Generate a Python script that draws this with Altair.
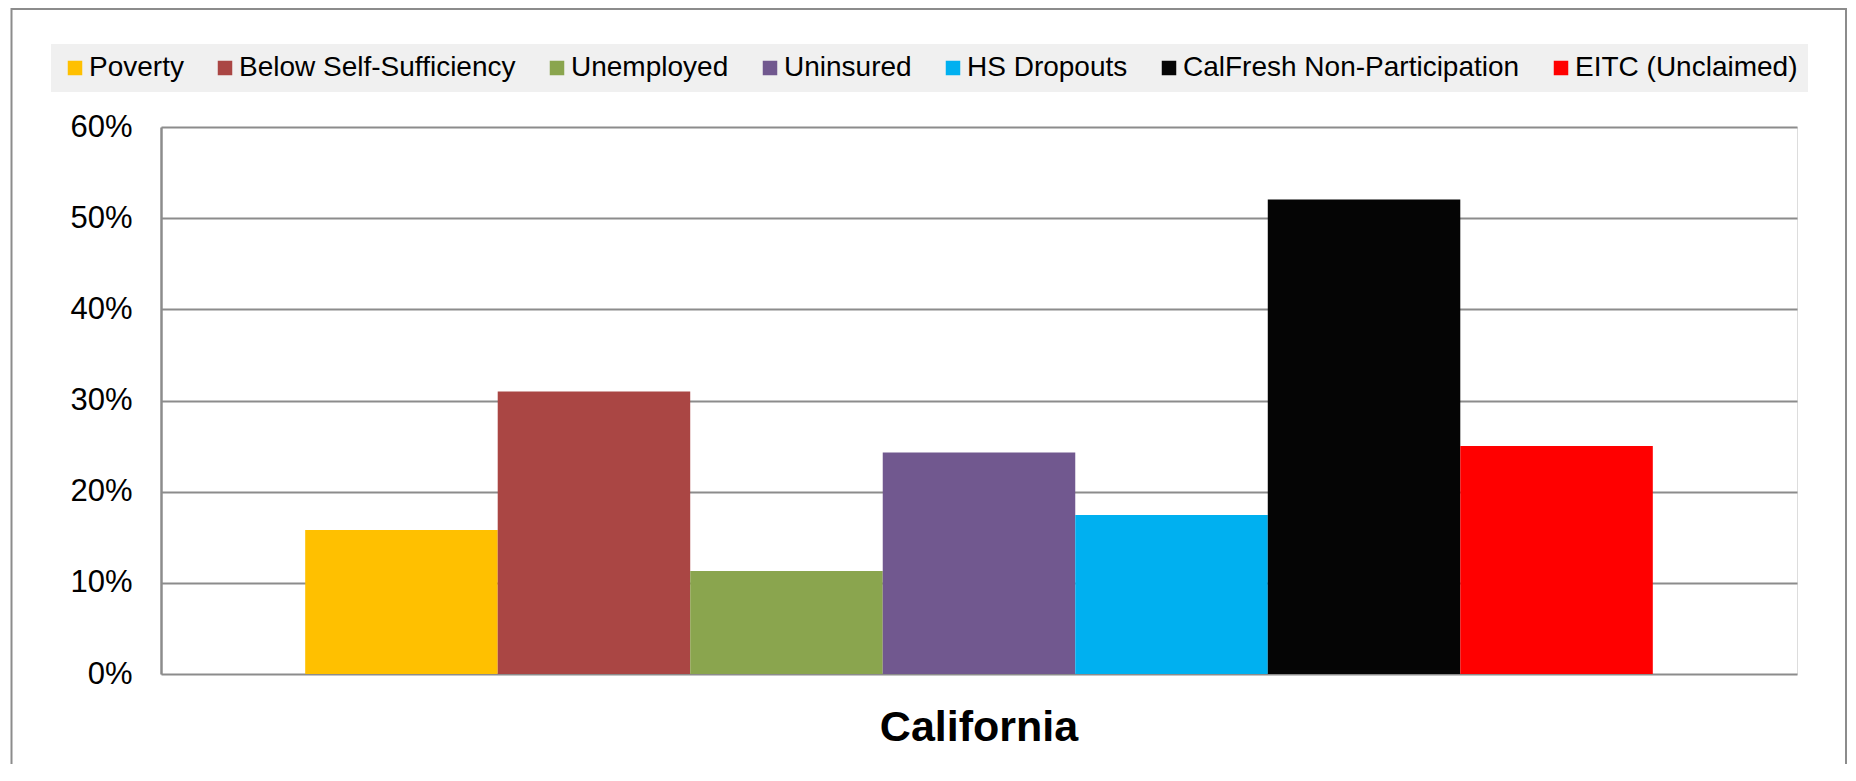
import altair as alt
import pandas as pd

region = ["California"]
series = ["Poverty", "Below Self-Sufficiency", "Unemployed", "Uninsured",
          "HS Dropouts", "CalFresh Non-Participation", "EITC (Unclaimed)"]
values = [0.158, 0.310, 0.113, 0.243, 0.1745, 0.5205, 0.250]
colors = ["#FFC000", "#AA4644", "#8AA54E", "#71588F", "#00B0F0", "#050505", "#FF0000"]
y_ticks = [0, 0.1, 0.2, 0.3, 0.4, 0.5, 0.6]

df = pd.DataFrame({"region": region * len(series), "series": series, "value": values})

FONT = "Liberation Sans"
GRID = "#8c8c8c"

bars = alt.Chart(df).mark_bar().encode(
    x=alt.X("region:N",
            scale=alt.Scale(domain=region, paddingInner=0, paddingOuter=0.107),
            axis=alt.Axis(title=None, labelFontSize=43, labelFontWeight="bold",
                          labelFont=FONT, labelColor="#000000", labelPadding=32,
                          labelLimit=1000,
                          ticks=False, tickSize=0, domain=False, grid=False,
                          labelAngle=0)),
    xOffset=alt.XOffset("series:N", sort=series,
                        scale=alt.Scale(domain=series, paddingInner=0, paddingOuter=0)),
    y=alt.Y("value:Q",
            scale=alt.Scale(domain=[0, 0.6], nice=False),
            axis=alt.Axis(title=None, values=y_ticks, format=".0%",
                          labelFontSize=31, labelFont=FONT, labelColor="#000000",
                          labelPadding=29, ticks=False, tickSize=0,
                          grid=True, gridColor=GRID, gridWidth=2,
                          domain=True, domainColor=GRID, domainWidth=2.5)),
    color=alt.Color("series:N", sort=series,
                    scale=alt.Scale(domain=series, range=colors),
                    legend=alt.Legend(title=None, orient="none", direction="horizontal",
                                      legendX=-110, legendY=-83,
                                      symbolType="square", symbolSize=210,
                                      symbolStrokeWidth=0, symbolOpacity=1,
                                      labelFontSize=28, labelFont=FONT,
                                      labelColor="#000000", labelOffset=0,
                                      columnPadding=27, columns=7,
                                      fillColor="#f0f0f0", padding=10,
                                      labelLimit=600)),
)

frame = alt.Chart(pd.DataFrame({"a": [0]})).mark_rect(
    filled=False, stroke=GRID, strokeWidth=2
).encode(
    x=alt.value(-149.5), x2=alt.value(1685),
    y=alt.value(-118), y2=alt.value(900)
)

chart = alt.layer(frame, bars).properties(
    width=1636, height=547,
    padding={"left": 153, "top": 119, "right": 51, "bottom": 90},
    autosize=alt.AutoSizeParams(type="none"),
).configure_view(stroke=None).configure(background="#ffffff")

chart.save("out.html", embed_options={"renderer": "svg", "actions": False})
